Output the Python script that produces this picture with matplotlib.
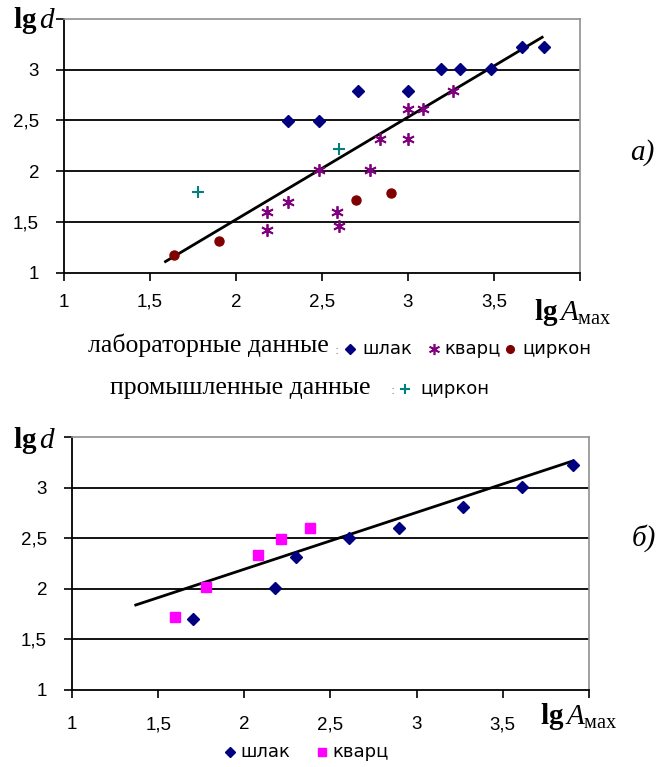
import matplotlib
matplotlib.use("Agg")
import matplotlib.pyplot as plt
from matplotlib.lines import Line2D

# Data
# a) laboratory + industrial data
slag_a_x = [2.30, 2.48, 2.71, 3.00, 3.19, 3.30, 3.48, 3.66, 3.79]
slag_a_y = [2.49, 2.49, 2.79, 2.79, 3.01, 3.01, 3.01, 3.22, 3.22]
quartz_a_x = [2.18, 2.18, 2.30, 2.48, 2.59, 2.60, 2.78, 2.84, 3.00, 3.00, 3.09, 3.26]
quartz_a_y = [1.60, 1.42, 1.70, 2.01, 1.60, 1.46, 2.01, 2.32, 2.32, 2.61, 2.61, 2.79]
zircon_lab_x = [1.64, 1.90, 2.70, 2.90]
zircon_lab_y = [1.17, 1.31, 1.72, 1.79]
zircon_ind_x = [1.78, 2.60]
zircon_ind_y = [1.80, 2.22]
trend_a_x = [1.59, 3.78]
trend_a_y = [1.11, 3.32]

# b)
slag_b_x = [1.70, 2.18, 2.30, 2.61, 2.90, 3.27, 3.61, 3.91]
slag_b_y = [1.70, 2.01, 2.31, 2.50, 2.60, 2.81, 3.01, 3.22]
quartz_b_x = [1.60, 1.78, 2.08, 2.21, 2.38]
quartz_b_y = [1.72, 2.02, 2.33, 2.49, 2.60]
trend_b_x = [1.37, 3.90]
trend_b_y = [1.84, 3.26]

x_ticks = [1, 1.5, 2, 2.5, 3, 3.5, 4]
x_labels = ["1", "1,5", "2", "2,5", "3", "3,5", ""]
y_ticks = [1, 1.5, 2, 2.5, 3, 3.5]
y_labels = ["1", "1,5", "2", "2,5", "3", ""]

plt.rcParams["mathtext.fontset"] = "custom"
plt.rcParams["mathtext.rm"] = "Liberation Serif"
plt.rcParams["mathtext.it"] = "Liberation Serif:italic"
plt.rcParams["mathtext.bf"] = "Liberation Serif:bold"

TICK_FONT = ["Liberation Sans", "DejaVu Sans"]
W, H = 658, 767

fig = plt.figure(figsize=(W / 100, H / 100), dpi=100)


def fx(px):
    return px / W


def fy(py):
    return 1 - py / H


def style_axes(ax, xpad):
    ax.set_xlim(1, 4)
    ax.set_ylim(1, 3.5)
    ax.set_xticks(x_ticks)
    ax.set_xticklabels(x_labels, fontfamily=TICK_FONT, fontsize=13.5)
    ax.set_yticks(y_ticks)
    ax.set_yticklabels(y_labels, fontfamily=TICK_FONT, fontsize=13.5)
    ax.tick_params(axis="x", direction="out", length=6, width=1.2, pad=xpad)
    ax.tick_params(axis="y", direction="out", length=6, width=1.2, pad=12)
    for yv in y_ticks[1:-1]:
        ax.axhline(yv, color="black", lw=1.3, zorder=1)
    for s in ["left", "bottom"]:
        ax.spines[s].set_color("black")
        ax.spines[s].set_linewidth(1.3)
    for s in ["top", "right"]:
        ax.spines[s].set_color("#909090")
        ax.spines[s].set_linewidth(1.2)


# ---- a) ----
ax1 = fig.add_axes([fx(64), fy(272.7), fx(580 - 64), (272.7 - 19) / H])
style_axes(ax1, 9)
ax1.plot(trend_a_x, trend_a_y, color="black", lw=2, zorder=3)
ax1.plot(slag_a_x, slag_a_y, "D", color="#000080", ms=6.5, ls="none", zorder=4)
ax1.plot(quartz_a_x, quartz_a_y, marker=(6, 2, 0), color="#800080", ms=9, mew=1.3,
         ls="none", zorder=4)
ax1.plot(zircon_lab_x, zircon_lab_y, "o", color="#800000", ms=6.5, ls="none", zorder=4)
ax1.plot(zircon_ind_x, zircon_ind_y, "+", color="#008080", ms=8, mew=1.5, ls="none", zorder=4)

# ---- b) ----
ax2 = fig.add_axes([fx(72), fy(690), fx(589 - 72), (690 - 437) / H])
style_axes(ax2, 13)
ax2.plot(trend_b_x, trend_b_y, color="black", lw=2, zorder=3)
ax2.plot(slag_b_x, slag_b_y, "D", color="#000080", ms=6.5, ls="none", zorder=4)
ax2.plot(quartz_b_x, quartz_b_y, "s", color="#FF00FF", ms=7, ls="none", zorder=4)

# axis titles
fig.text(fx(13), fy(21), r"$\mathbf{lg}\,\mathit{d}$", fontsize=21, va="center", ha="left")
fig.text(fx(13), fy(440), r"$\mathbf{lg}\,\mathit{d}$", fontsize=21, va="center", ha="left")
fig.text(fx(534), fy(312), r"$\mathbf{lg}\,\mathit{A}_{\mathrm{мах}}$", fontsize=21,
         va="center", ha="left")
fig.text(fx(540), fy(716), r"$\mathbf{lg}\,\mathit{A}_{\mathrm{мах}}$", fontsize=21,
         va="center", ha="left")

# panel labels
fig.text(fx(630), fy(153), "а)", fontsize=21, style="italic", family="Liberation Serif",
         va="center", ha="left")
fig.text(fx(632), fy(538), "б)", fontsize=21, style="italic", family="Liberation Serif",
         va="center", ha="left")


# ---- legends ----
def swatch(px, py, **kw):
    fig.add_artist(Line2D([fx(px)], [fy(py)], transform=fig.transFigure, ls="none", **kw))


LEG_FONT = ["DejaVu Sans"]
fig.text(fx(88), fy(345), "лабораторные данные", fontsize=18.5, family="Liberation Serif",
         va="center", ha="left")
fig.text(fx(334), fy(350), ":", fontsize=9, color="#888888", va="center")
swatch(350, 349, marker="D", color="#000080", ms=5)
fig.text(fx(362), fy(349), "шлак", fontsize=13, family=LEG_FONT, va="center")
swatch(434, 349, marker=(6, 2, 0), color="#800080", ms=8, mew=1.2)
fig.text(fx(444), fy(349), "кварц", fontsize=13, family=LEG_FONT, va="center")
swatch(510, 349, marker="o", color="#800000", ms=5.5)
fig.text(fx(522), fy(349), "циркон", fontsize=13, family=LEG_FONT, va="center")

fig.text(fx(110), fy(388), "промышленные данные", fontsize=18.5, family="Liberation Serif",
         va="center", ha="left")
fig.text(fx(390), fy(390), ":", fontsize=9, color="#888888", va="center")
swatch(405, 389, marker="+", color="#008080", ms=7, mew=1.5)
fig.text(fx(420), fy(389), "циркон", fontsize=13, family=LEG_FONT, va="center")

swatch(230, 752, marker="D", color="#000080", ms=5)
fig.text(fx(240), fy(752), "шлак", fontsize=13, family=LEG_FONT, va="center")
swatch(322, 752, marker="s", color="#FF00FF", ms=6)
fig.text(fx(332), fy(752), "кварц", fontsize=13, family=LEG_FONT, va="center")

fig.savefig("out.png", dpi=100)
